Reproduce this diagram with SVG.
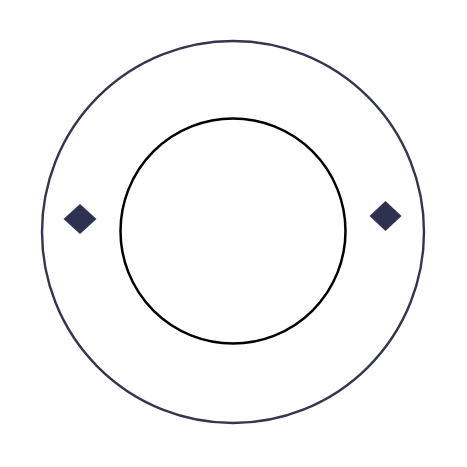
<svg xmlns="http://www.w3.org/2000/svg" width="467" height="467" viewBox="0 0 467 467">
<style>
.diamond{fill:#2e3150;stroke:none}
</style>
<rect width="467" height="467" fill="#ffffff"/>
<g id="outer-ring"><circle cx="233" cy="232" r="191" fill="none" stroke="#34354f" stroke-width="2.4"/></g>
<g id="inner-circle"><circle cx="233" cy="231" r="112.5" fill="none" stroke="#000000" stroke-width="2.5"/></g>
<g id="left-diamond"><polygon class="diamond" points="80,204 96.5,219 80,234 63.5,219"/></g>
<g id="right-diamond"><polygon class="diamond" points="385.5,201 401.5,216 385.5,231 369.5,216"/></g>
<g id="connectors"></g>
</svg>
